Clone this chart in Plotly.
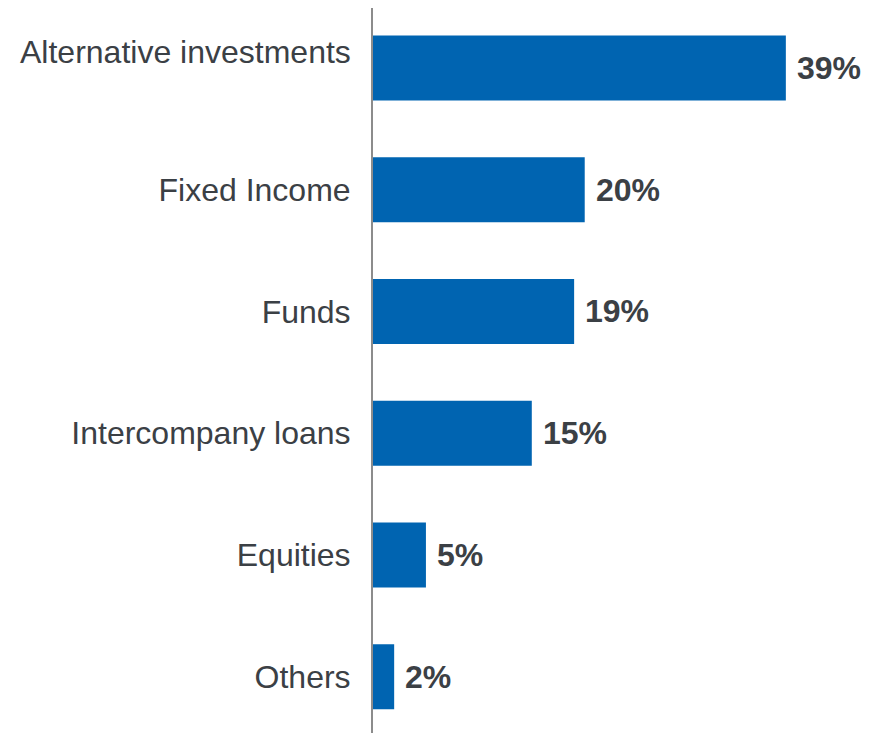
import plotly.graph_objects as go

categories = ["Alternative investments", "Fixed Income", "Funds",
              "Intercompany loans", "Equities", "Others"]
values = [39, 20, 19, 15, 5, 2]
value_labels = ["39%", "20%", "19%", "15%", "5%", "2%"]

bar_color = "#0064B1"
text_color = "#3B4045"
font_family = "Liberation Sans, Arial, sans-serif"

fig = go.Figure()
fig.add_trace(go.Bar(
    x=values, y=categories, orientation="h",
    marker=dict(color=bar_color, line=dict(width=0)),
    width=0.534, hoverinfo="skip",
))

for c, v, t in zip(categories, values, value_labels):
    fig.add_annotation(x=v, y=c, text=f"<b>{t}</b>", showarrow=False,
                       xanchor="left", yanchor="middle", xshift=9,
                       font=dict(size=32, color=text_color, family=font_family))

# first label sits higher than its bar in the reference (was a wrapped label)
tick_text = [""] + categories[1:]
fig.add_annotation(x=0, y=categories[0], text=categories[0], showarrow=False,
                   xanchor="right", yanchor="middle", xshift=-20, yshift=16,
                   font=dict(size=32, color=text_color, family=font_family))

fig.update_layout(
    width=871, height=725,
    margin=dict(l=365, r=0, t=0, b=0),
    paper_bgcolor="white", plot_bgcolor="white",
    showlegend=False,
    font=dict(family=font_family, color=text_color),
)
fig.update_xaxes(range=[0, 47.8], visible=False, showgrid=False, zeroline=False)
fig.update_yaxes(
    range=[5.461, -0.4918], showgrid=False, zeroline=False,
    showline=True, linecolor="#8C8C8C", linewidth=2,
    ticks="", ticklabelstandoff=14,
    tickmode="array", tickvals=categories, ticktext=tick_text,
    tickfont=dict(size=32, color=text_color, family=font_family),
)

fig.write_html("out.html")
